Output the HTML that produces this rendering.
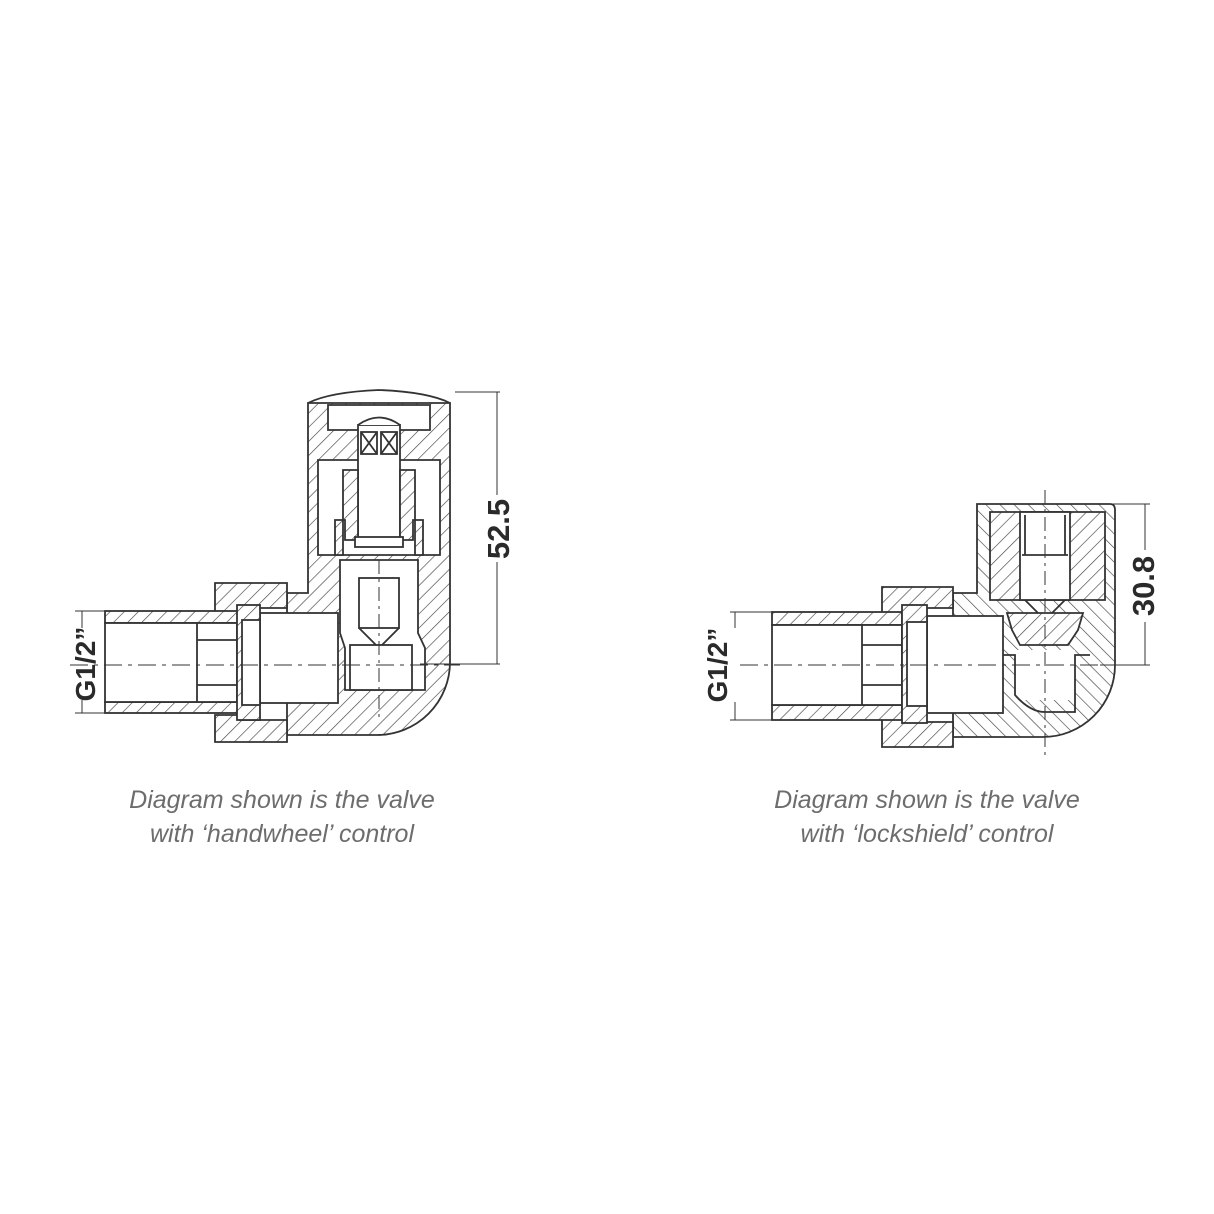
<!DOCTYPE html>
<html><head><meta charset="utf-8"><style>
html,body{margin:0;padding:0;background:#fff;}
.cap{position:absolute;width:500px;text-align:center;font-family:"Liberation Sans",sans-serif;font-style:italic;font-size:25px;color:#6d6d6d;line-height:34px;}
</style></head><body>
<div style="position:relative;width:1214px;height:1214px;overflow:hidden">
<svg width="1214" height="1214" viewBox="0 0 1214 1214" xmlns="http://www.w3.org/2000/svg" style="position:absolute;left:0;top:0">
<defs>
<pattern id="h" patternUnits="userSpaceOnUse" width="10" height="10" patternTransform="rotate(45)">
<rect width="10" height="10" fill="#fff"/><line x1="0" y1="0" x2="0" y2="10" stroke="#444" stroke-width="1.3"/></pattern>
<pattern id="h2" patternUnits="userSpaceOnUse" width="10" height="10" patternTransform="rotate(-45)">
<rect width="10" height="10" fill="#fff"/><line x1="0" y1="0" x2="0" y2="10" stroke="#444" stroke-width="1.3"/></pattern>
</defs>
<g fill="none" stroke="#333" stroke-width="1.8">
<path d="M287 593 H308 V403 H450 V662 A73 73 0 0 1 377 735 H287 Z" fill="url(#h)"/>
<path d="M318 460 H440 V555 H318 Z" fill="#fff"/>
<path d="M308 403 Q330 392 379 390 Q428 392 450 403" />
<path d="M328 405 H430 V430 H328 Z" fill="#fff"/>
<rect x="358" y="425" width="42" height="115" fill="#fff"/>
<path d="M358 425 Q379 410 400 425" fill="#fff"/>
<rect x="361" y="432" width="16" height="22" fill="#fff"/><path d="M361 432 L377 454 M377 432 L361 454"/>
<rect x="381" y="432" width="16" height="22" fill="#fff"/><path d="M381 432 L397 454 M397 432 L381 454"/>
<path d="M343 470 H358 V540 H345 V520 H335 V555 H343 Z" fill="url(#h)"/>
<path d="M415 470 H400 V540 H413 V520 H423 V555 H415 Z" fill="url(#h)"/>
<rect x="355" y="537" width="48" height="10" fill="#fff"/>
<path d="M340 560 H418 V633 L425 648 V690 H345 V648 L340 633 Z" fill="#fff"/>
<rect x="359" y="578" width="40" height="50" fill="#fff"/>
<path d="M359 628 L379 648 L399 628"/>
<rect x="350" y="645" width="62" height="45" fill="#fff"/>
<rect x="260" y="613" width="78" height="90" fill="#fff"/>
<path d="M215 583 H287 V608 H240 V615 H215 Z" fill="url(#h)"/>
<path d="M215 715 H240 V720 H287 V742 H215 Z" fill="url(#h)"/>
<rect x="105" y="611" width="150" height="12" fill="url(#h)"/>
<rect x="105" y="702" width="150" height="11" fill="url(#h)"/>
<rect x="105" y="623" width="150" height="79" fill="#fff"/>
<path d="M197 623 V702 M237 623 V702 M197 640 H237 M197 685 H237"/>
<rect x="237" y="605" width="23" height="115" fill="url(#h)"/>
<rect x="242" y="620" width="18" height="85" fill="#fff"/>
</g>
<g stroke="#333" stroke-width="1" fill="none">
<path d="M70 665 H460" stroke-dasharray="18 6 4 6"/>
<path d="M379 560 V720" stroke-dasharray="14 5 3 5"/>
<path d="M455 392 H500 M420 664 H500 M497 392 V495 M497 562 V664"/>
<path d="M75 611 H105 M75 713 H105 M82 611 V628 M82 700 V713"/>
</g>
<text x="0" y="0" transform="translate(509 529) rotate(-90)" text-anchor="middle" font-family="Liberation Sans,sans-serif" font-weight="bold" font-size="31" fill="#2a2a2a">52.5</text>
<text x="0" y="0" transform="translate(95 664) rotate(-90)" text-anchor="middle" font-family="Liberation Sans,sans-serif" font-weight="bold" font-size="28" fill="#2a2a2a">G1/2”</text>

<g fill="none" stroke="#333" stroke-width="1.8">
<path d="M953 593 H977 V504 H1110 Q1115 504 1115 510 V665 A72 72 0 0 1 1043 737 H953 Z" fill="url(#h2)"/>
<path d="M990 512 H1105 V600 H990 Z" fill="url(#h)"/>
<rect x="1020" y="512" width="50" height="88" fill="#fff"/>
<path d="M1025 515 V555 M1065 515 V555 M1022 555 H1068"/>
<path d="M1025 600 L1045 620 L1065 600"/>
<path d="M1007 613 H1083 L1078 630 L1068 645 H1020 L1012 630 Z" fill="url(#h)"/>
<rect x="1015" y="650" width="60" height="50" fill="#fff" stroke="none"/>
<path d="M1000 655 H1015 V695 Q1030 712 1045 712 H1075 V655 H1090"/>
<rect x="927" y="616" width="76" height="97" fill="#fff"/>
<path d="M882 587 H953 V608 H906 V615 H882 Z" fill="url(#h)"/>
<path d="M882 717 H906 V722 H953 V747 H882 Z" fill="url(#h)"/>
<rect x="772" y="612" width="130" height="13" fill="url(#h)"/>
<rect x="772" y="705" width="130" height="15" fill="url(#h)"/>
<rect x="772" y="625" width="130" height="80" fill="#fff"/>
<path d="M862 625 V705 M902 625 V705 M862 645 H902 M862 685 H902"/>
<rect x="902" y="605" width="25" height="118" fill="url(#h)"/>
<rect x="907" y="622" width="20" height="84" fill="#fff"/>
</g>
<g stroke="#333" stroke-width="1" fill="none">
<path d="M740 665 H1130" stroke-dasharray="18 6 4 6"/>
<path d="M1045 490 V760" stroke-dasharray="14 5 3 5"/>
<path d="M1110 504 H1150 M1100 665 H1150 M1145 504 V550 M1145 622 V665"/>
<path d="M730 612 H772 M730 720 H772 M735 612 V628 M735 702 V720"/>
</g>
<text x="0" y="0" transform="translate(1154 586) rotate(-90)" text-anchor="middle" font-family="Liberation Sans,sans-serif" font-weight="bold" font-size="31" fill="#2a2a2a">30.8</text>
<text x="0" y="0" transform="translate(727 665) rotate(-90)" text-anchor="middle" font-family="Liberation Sans,sans-serif" font-weight="bold" font-size="28" fill="#2a2a2a">G1/2”</text>
</svg>
<div class="cap" style="left:32px;top:783px">Diagram shown is the valve<br>with ‘handwheel’ control</div>
<div class="cap" style="left:677px;top:783px">Diagram shown is the valve<br>with ‘lockshield’ control</div>
</div>
</body></html>
